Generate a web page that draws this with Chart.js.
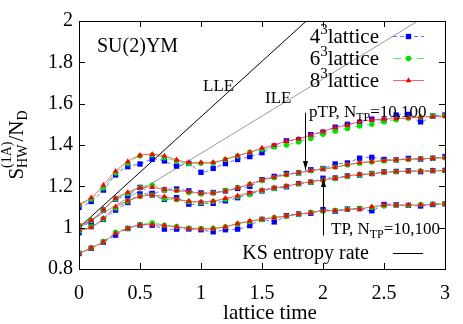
<!DOCTYPE html>
<html>
<head>
<meta charset="utf-8">
<script src="https://cdn.jsdelivr.net/npm/chart.js@4.4.1/dist/chart.umd.min.js"></script>
<style>
  html, body { margin: 0; padding: 0; background: #fff; }
</style>
</head>
<body>
<canvas id="chart" width="463" height="324"></canvas>
<script>
// lattice time grid
const times = [0, 0.1, 0.2, 0.3, 0.4, 0.5, 0.6, 0.7, 0.8, 0.9, 1.0,
  1.1, 1.2, 1.3, 1.4, 1.5, 1.6, 1.7, 1.8, 1.9, 2.0,
  2.1, 2.2, 2.3, 2.4, 2.5, 2.6, 2.7, 2.8, 2.9, 3.0];

// curve A (top)
const curveA4 = [1.098, 1.127, 1.182, 1.255, 1.295, 1.308, 1.331, 1.323, 1.298, 1.311, 1.268,
  1.287, 1.310, 1.330, 1.344, 1.363, 1.395, 1.420, 1.425, 1.450, 1.462,
  1.486, 1.500, 1.510, 1.525, 1.520, 1.545, 1.548, 1.512, 1.540, 1.545];
const curveA6 = [1.110, 1.138, 1.192, 1.265, 1.310, 1.347, 1.352, 1.338, 1.323, 1.310, 1.312,
  1.313, 1.330, 1.347, 1.365, 1.380, 1.390, 1.400, 1.415, 1.432, 1.452,
  1.467, 1.480, 1.492, 1.500, 1.512, 1.522, 1.530, 1.535, 1.540, 1.540];
const curveA8 = [1.114, 1.145, 1.206, 1.273, 1.320, 1.350, 1.355, 1.347, 1.328, 1.316, 1.315,
  1.316, 1.331, 1.349, 1.365, 1.385, 1.400, 1.418, 1.430, 1.448, 1.465,
  1.484, 1.495, 1.515, 1.521, 1.525, 1.528, 1.531, 1.535, 1.537, 1.539];

// curve B (pTP)
const curveB4 = [1.000, 1.030, 1.085, 1.138, 1.153, 1.195, 1.166, 1.183, 1.187, 1.178, 1.168,
  1.170, 1.178, 1.190, 1.200, 1.232, 1.248, 1.262, 1.265, 1.280, 1.286,
  1.308, 1.313, 1.336, 1.340, 1.330, 1.328, 1.335, 1.332, 1.336, 1.344];
const curveB6 = [1.010, 1.035, 1.085, 1.140, 1.165, 1.195, 1.205, 1.182, 1.180, 1.170, 1.163,
  1.168, 1.180, 1.195, 1.210, 1.228, 1.242, 1.256, 1.265, 1.275, 1.285,
  1.293, 1.303, 1.312, 1.318, 1.323, 1.328, 1.330, 1.333, 1.336, 1.338];
const curveB8 = [1.015, 1.036, 1.088, 1.142, 1.171, 1.193, 1.195, 1.185, 1.179, 1.174, 1.166,
  1.169, 1.177, 1.193, 1.211, 1.230, 1.245, 1.256, 1.266, 1.276, 1.283,
  1.292, 1.305, 1.315, 1.320, 1.325, 1.328, 1.331, 1.333, 1.336, 1.339];

// curve C (TP)
const curveC4 = [0.975, 1.005, 1.040, 1.085, 1.122, 1.163, 1.158, 1.137, 1.145, 1.114, 1.118,
  1.118, 1.130, 1.145, 1.165, 1.178, 1.190, 1.198, 1.213, 1.220, 1.239,
  1.240, 1.250, 1.255, 1.262, 1.270, 1.272, 1.275, 1.271, 1.276, 1.277];
const curveC6 = [0.985, 1.005, 1.042, 1.095, 1.128, 1.152, 1.158, 1.140, 1.135, 1.126, 1.122,
  1.127, 1.138, 1.150, 1.160, 1.180, 1.190, 1.200, 1.212, 1.220, 1.230,
  1.238, 1.248, 1.256, 1.262, 1.268, 1.271, 1.273, 1.274, 1.275, 1.276];
const curveC8 = [0.990, 1.001, 1.045, 1.101, 1.130, 1.150, 1.158, 1.150, 1.137, 1.129, 1.125,
  1.129, 1.142, 1.154, 1.169, 1.182, 1.193, 1.201, 1.214, 1.222, 1.231,
  1.239, 1.250, 1.258, 1.260, 1.268, 1.271, 1.273, 1.274, 1.275, 1.276];

// curve D (bottom)
const curveD4 = [0.875, 0.900, 0.930, 0.964, 0.996, 1.012, 1.012, 0.993, 0.993, 0.994, 0.990,
  0.980, 0.990, 0.993, 1.010, 1.040, 1.028, 1.058, 1.066, 1.070, 1.087,
  1.080, 1.090, 1.092, 1.082, 1.112, 1.110, 1.108, 1.105, 1.112, 1.115];
const curveD6 = [0.878, 0.902, 0.933, 0.978, 0.996, 1.014, 1.023, 1.012, 1.006, 0.998, 0.996,
  0.997, 1.005, 1.018, 1.030, 1.040, 1.050, 1.055, 1.065, 1.075, 1.080,
  1.083, 1.090, 1.093, 1.098, 1.105, 1.108, 1.108, 1.112, 1.114, 1.116];
const curveD8 = [0.875, 0.902, 0.931, 0.972, 0.996, 1.014, 1.014, 1.010, 1.004, 0.996, 0.993,
  0.995, 1.004, 1.020, 1.032, 1.041, 1.049, 1.056, 1.066, 1.072, 1.082,
  1.082, 1.088, 1.090, 1.101, 1.109, 1.109, 1.110, 1.110, 1.113, 1.116];

// straight reference lines (end points)
const lleLine = [{ x: 0, y: 1.0 }, { x: 3, y: 2.61 }];
const ileLine = [{ x: 0, y: 1.0 }, { x: 3, y: 2.08 }];

// axis ticks
const xTicks = [0, 0.5, 1, 1.5, 2, 2.5, 3];
const yTicks = [0.8, 1, 1.2, 1.4, 1.6, 1.8, 2];

// arrows: [time, from, to]
const arrowPTP = [1.852, 1.556, 1.279];
const arrowTP = [2.0, 0.962, 1.24];

const SERIF = '"Liberation Serif", "Times New Roman", serif';

const pts = arr => arr.map((v, i) => ({ x: times[i], y: v }));

const style4 = { borderColor: 'rgba(60,60,255,0.75)', backgroundColor: '#0000ff', pointStyle: 'rect', pointRadius: 3.8, borderDash: [4, 3] };
const style6 = { borderColor: 'rgba(40,230,40,0.75)', backgroundColor: '#00e000', pointStyle: 'circle', pointRadius: 2.7, borderDash: [8, 4] };
const style8 = { borderColor: 'rgba(255,60,60,0.8)', backgroundColor: '#ff0000', pointStyle: 'triangle', pointRadius: 3.3, borderDash: [] };

function series(data, st) {
  return {
    data: pts(data),
    borderColor: st.borderColor,
    backgroundColor: st.backgroundColor,
    pointBackgroundColor: st.backgroundColor,
    pointBorderColor: st.backgroundColor,
    pointBorderWidth: 0,
    pointStyle: st.pointStyle,
    pointRadius: st.pointRadius,
    borderWidth: 1,
    borderDash: st.borderDash,
    tension: 0.35,
    fill: false
  };
}

const datasets = [];
[curveA8, curveB8, curveC8, curveD8].forEach(d => datasets.push(series(d, style8)));
[curveA6, curveB6, curveC6, curveD6].forEach(d => datasets.push(series(d, style6)));
[curveA4, curveB4, curveC4, curveD4].forEach(d => datasets.push(series(d, style4)));
datasets.push({ data: lleLine, borderColor: '#000', borderWidth: 1, pointRadius: 0, tension: 0 });
datasets.push({ data: ileLine, borderColor: '#999', borderWidth: 1, pointRadius: 0, tension: 0 });

function fontOf(size) { return size + 'px ' + SERIF; }

function drawRich(ctx, parts, x, y, align) {
  let w = 0;
  parts.forEach(p => {
    ctx.font = fontOf(p.size);
    p.w = ctx.measureText(p.t).width;
    w += p.w;
  });
  let cx = align === 'right' ? x - w : align === 'center' ? x - w / 2 : x;
  ctx.textAlign = 'left';
  ctx.textBaseline = 'alphabetic';
  parts.forEach(p => {
    ctx.font = fontOf(p.size);
    ctx.fillText(p.t, cx, y + (p.dy || 0));
    cx += p.w;
  });
}

function marker(ctx, style, x, y) {
  ctx.fillStyle = style.backgroundColor;
  ctx.beginPath();
  const r = style.pointRadius;
  if (style.pointStyle === 'rect') {
    const s = r * Math.SQRT1_2;
    ctx.rect(x - s, y - s, 2 * s, 2 * s);
  } else if (style.pointStyle === 'circle') {
    ctx.arc(x, y, r, 0, Math.PI * 2);
  } else {
    ctx.moveTo(x, y - r);
    ctx.lineTo(x + r * 0.866, y + r * 0.5);
    ctx.lineTo(x - r * 0.866, y + r * 0.5);
    ctx.closePath();
  }
  ctx.fill();
}

function arrow(ctx, x, y1, y2) {
  ctx.strokeStyle = '#000';
  ctx.fillStyle = '#000';
  ctx.lineWidth = 1;
  ctx.beginPath();
  ctx.moveTo(x, y1);
  ctx.lineTo(x, y2);
  ctx.stroke();
  const d = y2 > y1 ? 1 : -1;
  ctx.beginPath();
  ctx.moveTo(x, y2);
  ctx.lineTo(x - 2.5, y2 - d * 9);
  ctx.lineTo(x + 2.5, y2 - d * 9);
  ctx.closePath();
  ctx.fill();
}

// y title: S with stacked sub/superscript, then /N_D
function yTitle(ctx, cx, cy) {
  ctx.save();
  ctx.translate(cx, cy);
  ctx.rotate(-Math.PI / 2);
  ctx.textBaseline = 'alphabetic';
  ctx.textAlign = 'left';
  const big = 21, small = 14;
  ctx.font = fontOf(big);
  const wS = ctx.measureText('S').width;
  const wN = ctx.measureText('/N').width;
  ctx.font = fontOf(small);
  const wSub = ctx.measureText('HW').width;
  const wSup = ctx.measureText('(1A)').width;
  const wD = ctx.measureText('D').width;
  const wMid = Math.max(wSub, wSup);
  let x = -(wS + wMid + wN + wD) / 2;
  ctx.font = fontOf(big);
  ctx.fillText('S', x, 0);
  x += wS;
  ctx.font = fontOf(small);
  ctx.fillText('HW', x, 4);
  ctx.fillText('(1A)', x, -12);
  x += wMid;
  ctx.font = fontOf(big);
  ctx.fillText('/N', x, 0);
  x += wN;
  ctx.font = fontOf(small);
  ctx.fillText('D', x, 4);
  ctx.restore();
}

const decor = {
  id: 'decor',
  afterDraw(chart) {
    const ctx = chart.ctx;
    const a = chart.chartArea;
    const xs = chart.scales.x, ys = chart.scales.y;
    ctx.save();

    // frame and inward ticks
    ctx.strokeStyle = '#000';
    ctx.lineWidth = 1;
    ctx.strokeRect(Math.round(a.left) + 0.5, Math.round(a.top) + 0.5,
      Math.round(a.right - a.left), Math.round(a.bottom - a.top));
    ctx.beginPath();
    xTicks.forEach(v => {
      const px = Math.round(xs.getPixelForValue(v)) + 0.5;
      ctx.moveTo(px, a.bottom); ctx.lineTo(px, a.bottom - 6);
      ctx.moveTo(px, a.top); ctx.lineTo(px, a.top + 6);
    });
    yTicks.forEach(v => {
      const py = Math.round(ys.getPixelForValue(v)) + 0.5;
      ctx.moveTo(a.left, py); ctx.lineTo(a.left + 6, py);
      ctx.moveTo(a.right, py); ctx.lineTo(a.right - 6, py);
    });
    ctx.stroke();

    ctx.fillStyle = '#000';

    // axis titles
    drawRich(ctx, [{ t: 'lattice time', size: 21 }], 270, 319, 'center');
    yTitle(ctx, 23, (a.top + a.bottom) / 2);

    // labels
    drawRich(ctx, [{ t: 'SU(2)YM', size: 20 }], 97, 52, 'left');
    drawRich(ctx, [{ t: 'LLE', size: 17 }], 203, 91, 'left');
    drawRich(ctx, [{ t: 'ILE', size: 17 }], 265, 103, 'left');
    drawRich(ctx, [{ t: 'pTP, N', size: 17 }, { t: 'TP', size: 12, dy: 4 }, { t: '=10,100', size: 17 }], 309, 117, 'left');
    drawRich(ctx, [{ t: 'TP, N', size: 17 }, { t: 'TP', size: 12, dy: 4 }, { t: '=10,100', size: 17 }], 331, 234, 'left');

    // arrows
    arrow(ctx, Math.round(xs.getPixelForValue(arrowPTP[0])) + 0.5, ys.getPixelForValue(arrowPTP[1]), ys.getPixelForValue(arrowPTP[2]));
    arrow(ctx, Math.round(xs.getPixelForValue(arrowTP[0])) + 0.5, ys.getPixelForValue(arrowTP[1]), ys.getPixelForValue(arrowTP[2]));

    // legend
    const rows = [['4', style4, 36], ['6', style6, 58], ['8', style8, 80]];
    rows.forEach(([n, st, y]) => {
      ctx.fillStyle = '#000';
      drawRich(ctx, [{ t: n, size: 21 }, { t: '3', size: 15, dy: -9 }, { t: 'lattice', size: 21 }], 379, y + 7, 'right');
      ctx.strokeStyle = st.borderColor;
      ctx.setLineDash(st.borderDash);
      ctx.beginPath();
      ctx.moveTo(393, y + 0.5); ctx.lineTo(424, y + 0.5);
      ctx.stroke();
      ctx.setLineDash([]);
      marker(ctx, st, 408.5, y + 0.5);
    });
    ctx.fillStyle = '#000';
    drawRich(ctx, [{ t: 'KS entropy rate', size: 20 }], 369, 259, 'right');
    ctx.strokeStyle = '#000';
    ctx.beginPath();
    ctx.moveTo(393, 253.5); ctx.lineTo(423, 253.5);
    ctx.stroke();

    ctx.restore();
  }
};

new Chart(document.getElementById('chart'), {
  type: 'line',
  data: { datasets },
  options: {
    responsive: false,
    animation: false,
    layout: { padding: { left: 0, top: 21, right: 14, bottom: 0 } },
    plugins: { legend: { display: false }, tooltip: { enabled: false } },
    scales: {
      x: {
        type: 'linear', min: 0, max: 3,
        afterBuildTicks: s => { s.ticks = xTicks.map(v => ({ value: v })); },
        afterFit: s => { s.height = 55; },
        grid: { display: false, drawTicks: false },
        border: { display: false },
        ticks: { font: { family: SERIF, size: 20 }, color: '#000', padding: 13, maxRotation: 0, callback: v => String(v) }
      },
      y: {
        type: 'linear', min: 0.8, max: 2,
        afterBuildTicks: s => { s.ticks = yTicks.map(v => ({ value: v })); },
        afterFit: s => { s.width = 79; },
        grid: { display: false, drawTicks: false },
        border: { display: false },
        ticks: { font: { family: SERIF, size: 20 }, color: '#000', padding: 6, callback: v => String(v) }
      }
    }
  },
  plugins: [decor]
});
</script>
</body>
</html>
